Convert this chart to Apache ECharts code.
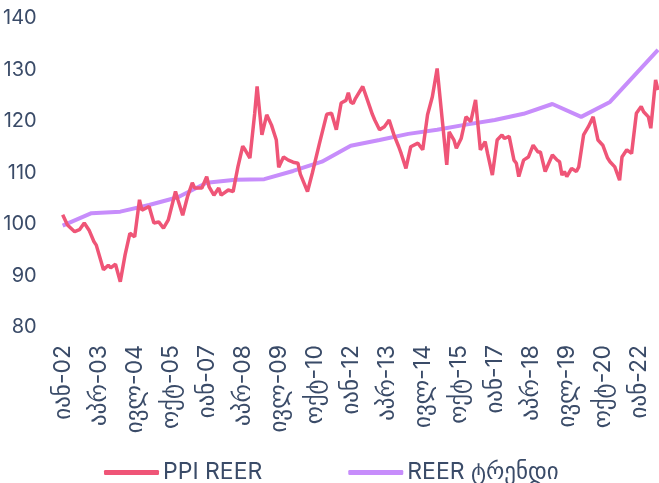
<!DOCTYPE html>
<html>
<head>
<meta charset="utf-8">
<script src="https://cdn.jsdelivr.net/npm/echarts@6/dist/echarts.min.js"></script>
<style>
  html, body { margin: 0; padding: 0; background: #fff; }
  #chart { width: 659px; height: 483px; }
</style>
</head>
<body>
<div id="chart"></div>
<script>
// months shown on the axis (Georgian abbreviations)
const monthNames = ['იან', 'თებ', 'მარ', 'აპრ', 'მაი', 'ივნ', 'ივლ', 'აგვ', 'სექ', 'ოქტ', 'ნოე', 'დეკ'];
const firstYear = 2002;
const monthCount = 249; // Jan-2002 .. Sep-2022

const yTicks = [80, 90, 100, 110, 120, 130, 140];

// PPI REER: [month index, value]
const ppiPoints = [
  [0, 101.8], [2, 99.8], [5, 98.5], [7, 98.9], [9, 100.2], [11, 98.8], [13, 96.6], [14, 95.9],
  [17, 91.1], [19, 92], [20, 91.5], [22, 92.2], [24, 88.8], [26, 94], [28, 98.2], [30, 97.5],
  [32, 104.7], [33, 102.7], [36, 103.4], [38, 100.2], [40, 100.4], [42, 99.2], [44, 100.8],
  [47, 106.3], [48, 104.7], [50, 101.7], [52, 105.3], [54, 108], [55, 107], [58, 107],
  [60, 109.2], [61, 107.2], [63, 105.6], [65, 107], [66, 105.6], [69, 106.6], [71, 106.3],
  [73, 111.1], [75, 115.1], [76, 114.4], [78, 112.8], [80, 121.5], [81, 126.7], [83, 117.3],
  [85, 121.2], [87, 119.2], [89, 116.3], [90, 111], [92, 113], [94, 112.4], [96, 112],
  [98, 111.8], [99, 109.7], [102, 106.3], [104, 109.9], [107, 115.7], [110, 121.3], [112, 121.5],
  [114, 118.3], [116, 123.5], [118, 124], [119, 125.5], [120, 123.7], [121, 123.4], [122, 124.4],
  [125, 126.7], [127, 124], [129, 121.3], [130, 120.2], [132, 118.3], [134, 118.9], [136, 120.2],
  [138, 117.3], [140, 115], [141, 113.7], [143, 110.8], [145, 115], [148, 115.7], [150, 114.4],
  [152, 121.2], [154, 124.7], [156, 130.2], [158, 120.8], [160, 111.5], [161, 117.9], [163, 116.3],
  [164, 114.7], [166, 116.6], [168, 120.8], [170, 119.9], [172, 124.1], [174, 114.4], [176, 116],
  [177, 113.7], [179, 109.5], [181, 116.3], [183, 117.3], [184, 116.6], [186, 117], [188, 112.4],
  [189, 111.8], [190, 109.2], [192, 112.4], [194, 113], [196, 115.3], [198, 114], [199, 114],
  [201, 110.2], [204, 113.4], [206, 112.4], [207, 112.1], [208, 109.5], [209, 110.2], [210, 109.2],
  [212, 110.8], [214, 110.2], [215, 111.1], [217, 117.3], [219, 118.9], [221, 120.8], [223, 116.3],
  [225, 115.3], [227, 112.8], [228, 112.1], [230, 111.1], [232, 108.5], [233, 113], [235, 114.4],
  [237, 113.7], [239, 121.5], [241, 122.8], [242, 121.8], [244, 120.8], [245, 118.6], [247, 128],
  [248, 126]
];

// REER trend: yearly knots
const trendPoints = [
  [0, 99.7], [12, 102.1], [24, 102.4], [36, 103.7], [48, 105.2], [60, 108], [72, 108.6],
  [84, 108.7], [96, 110.3], [108, 112.1], [120, 115.2], [132, 116.3], [144, 117.5],
  [156, 118.3], [168, 119.3], [180, 120.2], [192, 121.4], [204, 123.3], [216, 120.8],
  [228, 123.7], [248, 133.8]
];

const categories = [];
for (let i = 0; i < monthCount; i++) {
  const y = firstYear + Math.floor(i / 12);
  categories.push(monthNames[i % 12] + '-' + String(y % 100).padStart(2, '0'));
}

const textColor = '#3a4b68';
const font = "Inter, 'DejaVu Sans', sans-serif";

const chart = echarts.init(document.getElementById('chart'));
chart.setOption({
  animation: false,
  textStyle: { fontFamily: font },
  grid: { left: 61, right: 1, top: 18, bottom: 156, containLabel: false },
  legend: {
    left: 99,
    top: 456,
    icon: 'roundRect',
    itemWidth: 55,
    itemHeight: 5,
    itemGap: 86,
    textStyle: { color: textColor, fontSize: 23, fontFamily: font, padding: [0, 0, 0, -1] },
    data: ['PPI REER', 'REER ტრენდი']
  },
  xAxis: {
    type: 'category',
    boundaryGap: false,
    data: categories,
    axisLine: { show: false },
    axisTick: { show: false },
    axisLabel: {
      interval: 14,
      rotate: 90,
      margin: 18,
      color: textColor,
      fontSize: 23,
      fontFamily: font
    }
  },
  yAxis: {
    type: 'value',
    min: yTicks[0],
    max: yTicks[yTicks.length - 1],
    interval: 10,
    splitLine: { show: false },
    axisLine: { show: false },
    axisTick: { show: false },
    axisLabel: { margin: 26, color: textColor, fontSize: 20, fontFamily: font }
  },
  series: [
    {
      name: 'PPI REER',
      type: 'line',
      data: ppiPoints,
      showSymbol: false,
      symbol: 'none',
      lineStyle: { color: '#ef5577', width: 3.5 },
      itemStyle: { color: '#ef5577' },
      z: 3
    },
    {
      name: 'REER ტრენდი',
      type: 'line',
      data: trendPoints,
      showSymbol: false,
      symbol: 'none',
      lineStyle: { color: '#c78dfb', width: 4 },
      itemStyle: { color: '#c78dfb' },
      z: 2
    }
  ]
});
</script>
</body>
</html>
